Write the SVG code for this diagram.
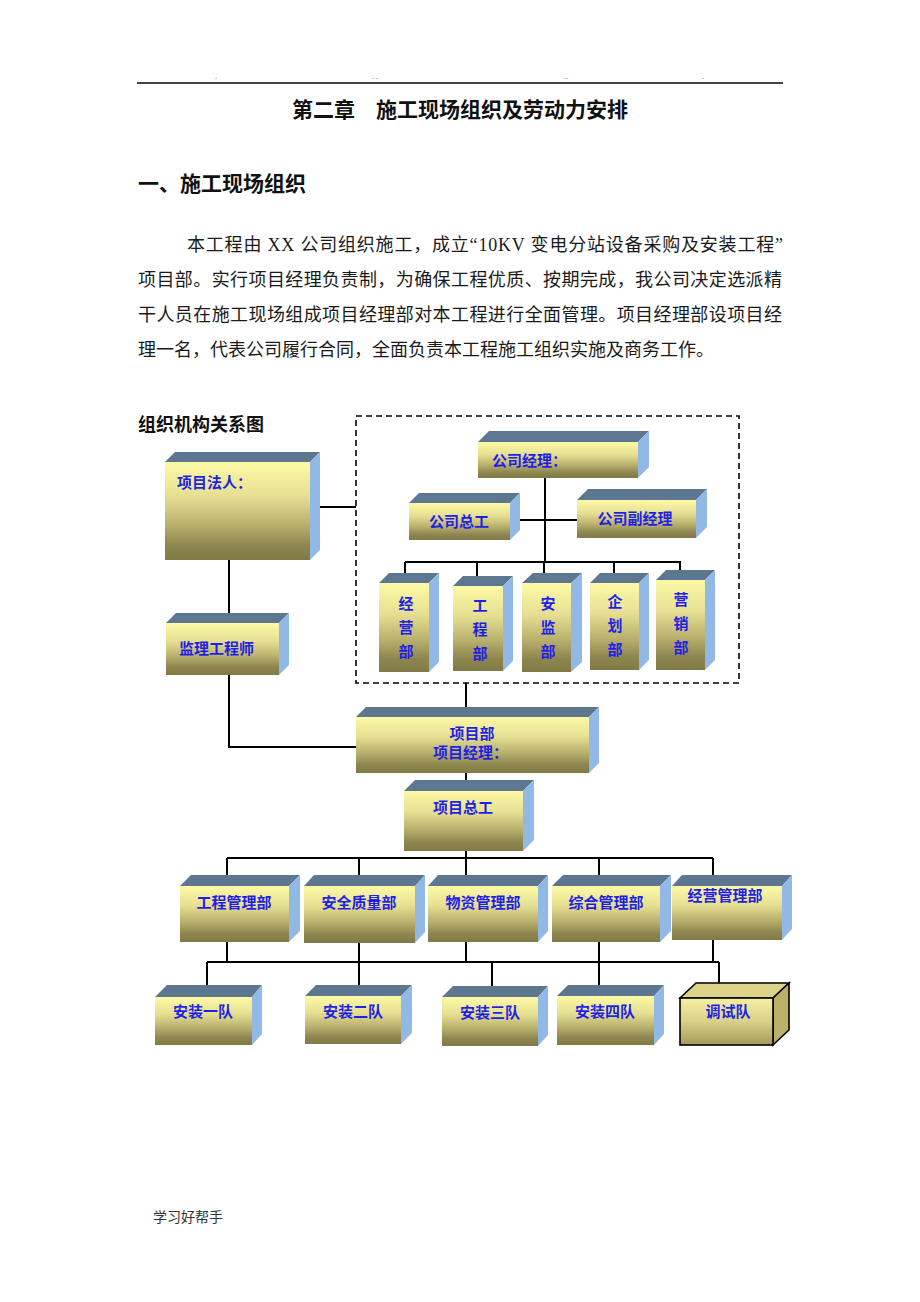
<svg xmlns="http://www.w3.org/2000/svg" width="920" height="1302" viewBox="0 0 920 1302">
<defs>
<linearGradient id="fg" x1="0" y1="0" x2="0" y2="1">
<stop offset="0" stop-color="#fdfaa6"/>
<stop offset="0.35" stop-color="#e6df92"/>
<stop offset="0.65" stop-color="#b7ae6c"/>
<stop offset="0.85" stop-color="#8e8650"/>
<stop offset="1" stop-color="#827a46"/>
</linearGradient>
<linearGradient id="fg2" x1="0" y1="0" x2="0" y2="1">
<stop offset="0" stop-color="#f6f0a0"/>
<stop offset="0.5" stop-color="#d9d08a"/>
<stop offset="1" stop-color="#a49a5c"/>
</linearGradient>
<style>
.front{fill:url(#fg)}
.top{fill:#5d7791}
.side{fill:#92b8e6}
.lbl{font-family:"Noto Sans CJK SC",sans-serif;font-size:15px;font-weight:bold;fill:#1f1fe6}
.ln{stroke:#000;stroke-width:2;fill:none}
.body{font-family:"Liberation Serif","Noto Sans CJK SC",serif;font-size:18px;fill:#1a1a1a}
.head{font-family:"Noto Sans CJK SC",sans-serif;font-weight:bold;fill:#111}
</style>
</defs>
<rect width="920" height="1302" fill="#fff"/>

<!-- header -->
<line x1="137" y1="83" x2="783" y2="83" stroke="#444" stroke-width="2"/>
<g font-family="Liberation Serif, serif" font-size="8" fill="#333">
<text x="215" y="79">.</text><text x="372" y="79">. .</text><text x="564" y="79">..</text><text x="702" y="79">.</text>
</g>
<text class="head" x="460" y="117" font-size="21" text-anchor="middle">第二章　施工现场组织及劳动力安排</text>
<text class="head" x="138" y="191" font-size="21">一、施工现场组织</text>
<text class="body" x="187" y="251" textLength="596" lengthAdjust="spacing">本工程由 XX 公司组织施工，成立“10KV 变电分站设备采购及安装工程”</text>
<text class="body" x="138" y="286" textLength="644" lengthAdjust="spacing">项目部。实行项目经理负责制，为确保工程优质、按期完成，我公司决定选派精</text>
<text class="body" x="138" y="321" textLength="644" lengthAdjust="spacing">干人员在施工现场组成项目经理部对本工程进行全面管理。项目经理部设项目经</text>
<text class="body" x="138" y="356">理一名，代表公司履行合同，全面负责本工程施工组织实施及商务工作。</text>
<text class="head" x="138" y="431" font-size="18">组织机构关系图</text>

<!-- dashed company frame -->
<rect x="356" y="416" width="383" height="267" fill="none" stroke="#000" stroke-width="1.6" stroke-dasharray="6,4"/>

<!-- connectors -->
<g id="connectors" class="ln">
<line x1="320" y1="507" x2="356" y2="507"/>
<line x1="229" y1="560" x2="229" y2="613"/>
<polyline points="229,675 229,747 356,747"/>
<line x1="545" y1="478" x2="545" y2="562"/>
<line x1="510" y1="520" x2="577" y2="520"/>
<line x1="405" y1="562" x2="681" y2="562"/>
<line x1="405" y1="562" x2="405" y2="574"/>
<line x1="477" y1="562" x2="477" y2="576"/>
<line x1="544" y1="562" x2="544" y2="574"/>
<line x1="614" y1="562" x2="614" y2="574"/>
<line x1="680" y1="562" x2="680" y2="571"/>
<line x1="466" y1="683" x2="466" y2="707"/>
<line x1="466" y1="773" x2="466" y2="781"/>
<line x1="466" y1="851" x2="466" y2="875"/>
<line x1="227" y1="858" x2="713" y2="858"/>
<line x1="227" y1="858" x2="227" y2="875"/>
<line x1="359" y1="858" x2="359" y2="875"/>
<line x1="599" y1="858" x2="599" y2="875"/>
<line x1="713" y1="858" x2="713" y2="875"/>
<line x1="227" y1="942" x2="227" y2="962"/>
<line x1="359" y1="943" x2="359" y2="962"/>
<line x1="466" y1="942" x2="466" y2="962"/>
<line x1="599" y1="942" x2="599" y2="962"/>
<line x1="713" y1="940" x2="713" y2="962"/>
<line x1="207" y1="962" x2="719" y2="962"/>
<line x1="207" y1="962" x2="207" y2="986"/>
<line x1="359" y1="962" x2="359" y2="985"/>
<line x1="492" y1="962" x2="492" y2="986"/>
<line x1="599" y1="962" x2="599" y2="985"/>
<line x1="719" y1="962" x2="719" y2="984"/>
</g>

<!-- nodes -->
<g id="n-faren">
<polygon class="top" points="165,462 175,452 320,452 310,462"/>
<polygon class="side" points="310,462 320,452 320,550 310,560"/>
<rect class="front" x="165" y="462" width="145" height="98"/>
<text class="lbl" x="177" y="488">项目法人：</text>
</g>

<g id="n-jianli">
<polygon class="top" points="166,623 176,613 289,613 279,623"/>
<polygon class="side" points="279,623 289,613 289,665 279,675"/>
<rect class="front" x="166" y="623" width="113" height="52"/>
<text class="lbl" x="179" y="654">监理工程师</text>
</g>

<g id="n-gsjl">
<polygon class="top" points="478,442 489,431 649,431 638,442"/>
<polygon class="side" points="638,442 649,431 649,467 638,478"/>
<rect class="front" x="478" y="442" width="160" height="36"/>
<text class="lbl" x="492" y="466">公司经理：</text>
</g>

<g id="n-gszg">
<polygon class="top" points="409,503 419,493 520,493 510,503"/>
<polygon class="side" points="510,503 520,493 520,530 510,540"/>
<rect class="front" x="409" y="503" width="101" height="37"/>
<text class="lbl" x="459" y="527" text-anchor="middle">公司总工</text>
</g>

<g id="n-gsfjl">
<polygon class="top" points="577,500 588,489 707,489 696,500"/>
<polygon class="side" points="696,500 707,489 707,527 696,538"/>
<rect class="front" x="577" y="500" width="119" height="38"/>
<text class="lbl" x="635" y="524" text-anchor="middle">公司副经理</text>
</g>

<g id="n-jyb">
<polygon class="top" points="379,583 389,573 439,573 429,583"/>
<polygon class="side" points="429,583 439,573 439,662 429,672"/>
<rect class="front" x="379" y="583" width="50" height="89"/>
<text class="lbl" x="406" y="609" text-anchor="middle">经</text>
<text class="lbl" x="406" y="633" text-anchor="middle">营</text>
<text class="lbl" x="406" y="657" text-anchor="middle">部</text>
</g>

<g id="n-gcb">
<polygon class="top" points="453,586 463,576 513,576 503,586"/>
<polygon class="side" points="503,586 513,576 513,661 503,671"/>
<rect class="front" x="453" y="586" width="50" height="85"/>
<text class="lbl" x="480" y="611" text-anchor="middle">工</text>
<text class="lbl" x="480" y="635" text-anchor="middle">程</text>
<text class="lbl" x="480" y="659" text-anchor="middle">部</text>
</g>

<g id="n-ajb">
<polygon class="top" points="522,583 533,573 582,573 571,583"/>
<polygon class="side" points="571,583 582,573 582,662 571,672"/>
<rect class="front" x="522" y="583" width="49" height="89"/>
<text class="lbl" x="548" y="609" text-anchor="middle">安</text>
<text class="lbl" x="548" y="633" text-anchor="middle">监</text>
<text class="lbl" x="548" y="657" text-anchor="middle">部</text>
</g>

<g id="n-qhb">
<polygon class="top" points="590,583 600,573 649,573 639,583"/>
<polygon class="side" points="639,583 649,573 649,660 639,670"/>
<rect class="front" x="590" y="583" width="49" height="87"/>
<text class="lbl" x="615" y="607" text-anchor="middle">企</text>
<text class="lbl" x="615" y="631" text-anchor="middle">划</text>
<text class="lbl" x="615" y="655" text-anchor="middle">部</text>
</g>

<g id="n-yxb">
<polygon class="top" points="656,580 666,570 715,570 705,580"/>
<polygon class="side" points="705,580 715,570 715,660 705,670"/>
<rect class="front" x="656" y="580" width="49" height="90"/>
<text class="lbl" x="681" y="605" text-anchor="middle">营</text>
<text class="lbl" x="681" y="629" text-anchor="middle">销</text>
<text class="lbl" x="681" y="653" text-anchor="middle">部</text>
</g>

<g id="n-xmb">
<polygon class="top" points="356,717 366,707 599,707 589,717"/>
<polygon class="side" points="589,717 599,707 599,763 589,773"/>
<rect class="front" x="356" y="717" width="233" height="56"/>
<text class="lbl" x="472" y="739" text-anchor="middle">项目部</text>
<text class="lbl" x="433" y="758">项目经理：</text>
</g>

<g id="n-xmzg">
<polygon class="top" points="404,791 415,780 534,780 523,791"/>
<polygon class="side" points="523,791 534,780 534,840 523,851"/>
<rect class="front" x="404" y="791" width="119" height="60"/>
<text class="lbl" x="463" y="813" text-anchor="middle">项目总工</text>
</g>

<g id="n-gcgl">
<polygon class="top" points="180,886 191,875 300,875 289,886"/>
<polygon class="side" points="289,886 300,875 300,931 289,942"/>
<rect class="front" x="180" y="886" width="109" height="56"/>
<text class="lbl" x="234" y="908" text-anchor="middle">工程管理部</text>
</g>

<g id="n-aqzl">
<polygon class="top" points="304,886 314,875 425,875 415,886"/>
<polygon class="side" points="415,886 425,875 425,932 415,943"/>
<rect class="front" x="304" y="886" width="111" height="57"/>
<text class="lbl" x="359" y="908" text-anchor="middle">安全质量部</text>
</g>

<g id="n-wzgl">
<polygon class="top" points="428,886 438,875 548,875 538,886"/>
<polygon class="side" points="538,886 548,875 548,931 538,942"/>
<rect class="front" x="428" y="886" width="110" height="56"/>
<text class="lbl" x="483" y="908" text-anchor="middle">物资管理部</text>
</g>

<g id="n-zhgl">
<polygon class="top" points="552,886 563,875 671,875 660,886"/>
<polygon class="side" points="660,886 671,875 671,931 660,942"/>
<rect class="front" x="552" y="886" width="108" height="56"/>
<text class="lbl" x="606" y="908" text-anchor="middle">综合管理部</text>
</g>

<g id="n-jygl">
<polygon class="top" points="672,886 682,875 792,875 782,886"/>
<polygon class="side" points="782,886 792,875 792,929 782,940"/>
<rect class="front" x="672" y="886" width="110" height="54"/>
<text class="lbl" x="725" y="901" text-anchor="middle">经营管理部</text>
</g>

<g id="n-az1">
<polygon class="top" points="155,997 167,985 262,985 252,997"/>
<polygon class="side" points="252,997 262,985 262,1034 252,1045"/>
<rect class="front" x="155" y="997" width="97" height="48"/>
<text class="lbl" x="203" y="1017" text-anchor="middle">安装一队</text>
</g>

<g id="n-az2">
<polygon class="top" points="305,996 316,985 412,985 401,996"/>
<polygon class="side" points="401,996 412,985 412,1033 401,1044"/>
<rect class="front" x="305" y="996" width="96" height="48"/>
<text class="lbl" x="353" y="1017" text-anchor="middle">安装二队</text>
</g>

<g id="n-az3">
<polygon class="top" points="442,997 453,986 548,986 538,997"/>
<polygon class="side" points="538,997 548,986 548,1035 538,1046"/>
<rect class="front" x="442" y="997" width="96" height="49"/>
<text class="lbl" x="490" y="1018" text-anchor="middle">安装三队</text>
</g>

<g id="n-az4">
<polygon class="top" points="557,996 568,985 664,985 654,996"/>
<polygon class="side" points="654,996 664,985 664,1034 654,1045"/>
<rect class="front" x="557" y="996" width="97" height="49"/>
<text class="lbl" x="605" y="1017" text-anchor="middle">安装四队</text>
</g>

<g id="n-tsd" stroke="#000" stroke-width="1.6" stroke-linejoin="miter">
<polygon fill="#ddd48a" points="680,998 696,983 789,983 773,998"/>
<polygon fill="#b9b06a" points="773,998 789,983 789,1030 773,1045"/>
<rect fill="url(#fg2)" x="680" y="998" width="93" height="47"/>
<text class="lbl" stroke="none" x="728" y="1017" text-anchor="middle">调试队</text>
</g>

<text x="153" y="1222" font-family="Liberation Serif, Noto Sans CJK SC, serif" font-size="14" fill="#333">学习好帮手</text>
</svg>
